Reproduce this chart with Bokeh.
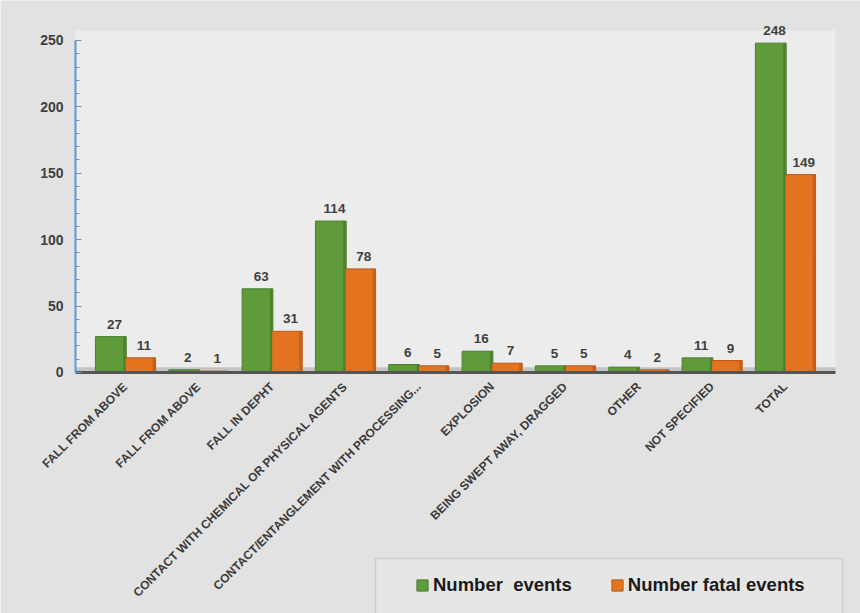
import math
from bokeh.plotting import figure
from bokeh.models import (ColumnDataSource, FixedTicker, Legend, LegendItem,
                          BoxAnnotation, LabelSet, Range1d, LinearAxis)
from bokeh.core.properties import value
from bokeh.embed import file_html
from bokeh.resources import INLINE

categories = [
    "FALL FROM ABOVE",
    "FALL FROM ABOVE",
    "FALL IN DEPHT",
    "CONTACT WITH CHEMICAL OR PHYSICAL AGENTS",
    "CONTACT/ENTANGLEMENT WITH PROCESSING...",
    "EXPLOSION",
    "BEING SWEPT AWAY, DRAGGED",
    "OTHER",
    "NOT SPECIFIED",
    "TOTAL",
]
number_events = [27, 2, 63, 114, 6, 16, 5, 4, 11, 248]
number_fatal_events = [11, 1, 31, 78, 5, 7, 5, 2, 9, 149]
y_ticks = [0, 50, 100, 150, 200, 250]

GREEN = "#5f9b3b"
GREEN_SIDE = "#4c7f2e"
ORANGE = "#e4731f"
ORANGE_SIDE = "#c45f16"
TEXT = "#404040"

X_LO, X_HI = -0.682, 9.682   # extent of the plot area in data units

idx = list(range(len(categories)))
src = ColumnDataSource(dict(
    xg=[i - 0.2 for i in idx],
    xo=[i + 0.2 for i in idx],
    xgs=[i - 0.015 for i in idx],
    xos=[i + 0.385 for i in idx],
    xgl=[i - 0.15 for i in idx],
    xol=[i + 0.25 for i in idx],
    ev=number_events,
    fa=number_fatal_events,
    evs=[str(v) for v in number_events],
    fas=[str(v) for v in number_fatal_events],
))

p = figure(width=860, height=613, output_backend="svg", toolbar_location=None,
           x_range=Range1d(-1.705, 10.023), y_range=Range1d(-181.5, 280.1),
           x_axis_location=None, y_axis_location=None,
           min_border_left=0, min_border_right=0, min_border_top=0,
           min_border_bottom=0)
p.border_fill_color = "#e2e2e2"
p.background_fill_color = "#e2e2e2"
p.outline_line_color = None

# plot area (above the floor)
p.add_layout(BoxAnnotation(bottom=0, top=257.5, left=X_LO, right=X_HI,
                           fill_color="#ececec", fill_alpha=1.0,
                           line_color=None, level="underlay"))
# floor band
p.add_layout(BoxAnnotation(bottom=0, top=4, left=X_LO, right=X_HI,
                           fill_color="#c4c4c4", fill_alpha=1.0,
                           line_color=None, level="underlay"))
# legend frame (screen units, measured from the bottom)
p.add_layout(BoxAnnotation(left=375, right=842, top=55, bottom=-30,
                           left_units="screen", right_units="screen",
                           top_units="screen", bottom_units="screen",
                           fill_color="#e6e6e6", fill_alpha=1.0,
                           line_color="#8fa27a", line_width=1.5,
                           level="underlay"))

rg = p.vbar(x="xg", top="ev", width=0.42, source=src, fill_color=GREEN,
            line_color="#4b7f2d", line_width=1)
ro = p.vbar(x="xo", top="fa", width=0.42, source=src, fill_color=ORANGE,
            line_color="#b85a15", line_width=1)
# darker side strips for a little depth
p.vbar(x="xgs", top="ev", width=0.03, source=src, fill_color=GREEN_SIDE,
       line_color=None)
p.vbar(x="xos", top="fa", width=0.03, source=src, fill_color=ORANGE_SIDE,
       line_color=None)

for col_x, col_y, col_t in (("xgl", "ev", "evs"), ("xol", "fa", "fas")):
    p.add_layout(LabelSet(x=col_x, y=col_y, text=col_t, source=src,
                          text_align="center", text_baseline="bottom",
                          y_offset=8, text_font=value("Liberation Sans"),
                          text_font_style="bold", text_font_size="13.5px",
                          text_color=TEXT))

# grid
p.xgrid.grid_line_color = None
p.ygrid.ticker = FixedTicker(ticks=y_ticks[1:])
p.ygrid.cross_bounds = (X_LO, X_HI)
p.ygrid.grid_line_color = "#dcdcdc"

# y axis at the left edge of the plot area
yaxis = LinearAxis(bounds=(0, 250), fixed_location=X_LO)
yaxis.ticker = FixedTicker(ticks=y_ticks, minor_ticks=list(range(0, 251, 10)))
yaxis.axis_line_color = "#5b9bd5"
yaxis.axis_line_width = 2
yaxis.major_tick_line_color = "#5b9bd5"
yaxis.minor_tick_line_color = "#5b9bd5"
yaxis.major_tick_in = 6
yaxis.major_tick_out = 0
yaxis.minor_tick_in = 4
yaxis.minor_tick_out = 0
yaxis.major_label_text_font = "Liberation Sans"
yaxis.major_label_text_font_style = "bold"
yaxis.major_label_text_font_size = "14px"
yaxis.major_label_text_color = TEXT
yaxis.major_label_standoff = 12
p.add_layout(yaxis, "left")

# x axis drawn at y = 0
xaxis = LinearAxis(fixed_location=0, bounds=(X_LO, X_HI))
xaxis.ticker = FixedTicker(ticks=idx)
xaxis.major_label_overrides = {i: c for i, c in zip(idx, categories)}
xaxis.major_label_orientation = math.pi / 4
xaxis.axis_line_color = "#555555"
xaxis.axis_line_width = 3
xaxis.major_tick_line_color = None
xaxis.minor_tick_line_color = None
xaxis.major_label_text_font = "Liberation Sans"
xaxis.major_label_text_font_size = "12px"
xaxis.major_label_text_font_style = "bold"
xaxis.major_label_text_color = "#3a3a3a"
xaxis.major_label_standoff = 6
p.add_layout(xaxis, "below")

legend = Legend(items=[LegendItem(label="Number  events", renderers=[rg]),
                       LegendItem(label="Number fatal events", renderers=[ro])],
                location=(398, 0), orientation="horizontal",
                padding=17, spacing=38, label_standoff=4,
                glyph_width=14, glyph_height=14,
                label_text_font="Liberation Sans", label_text_font_style="bold",
                label_text_font_size="18.5px", label_text_color="#1a1a1a",
                border_line_alpha=0.0, background_fill_alpha=0.0)
p.add_layout(legend, "center")

open("out.html", "w").write(file_html(p, INLINE))
